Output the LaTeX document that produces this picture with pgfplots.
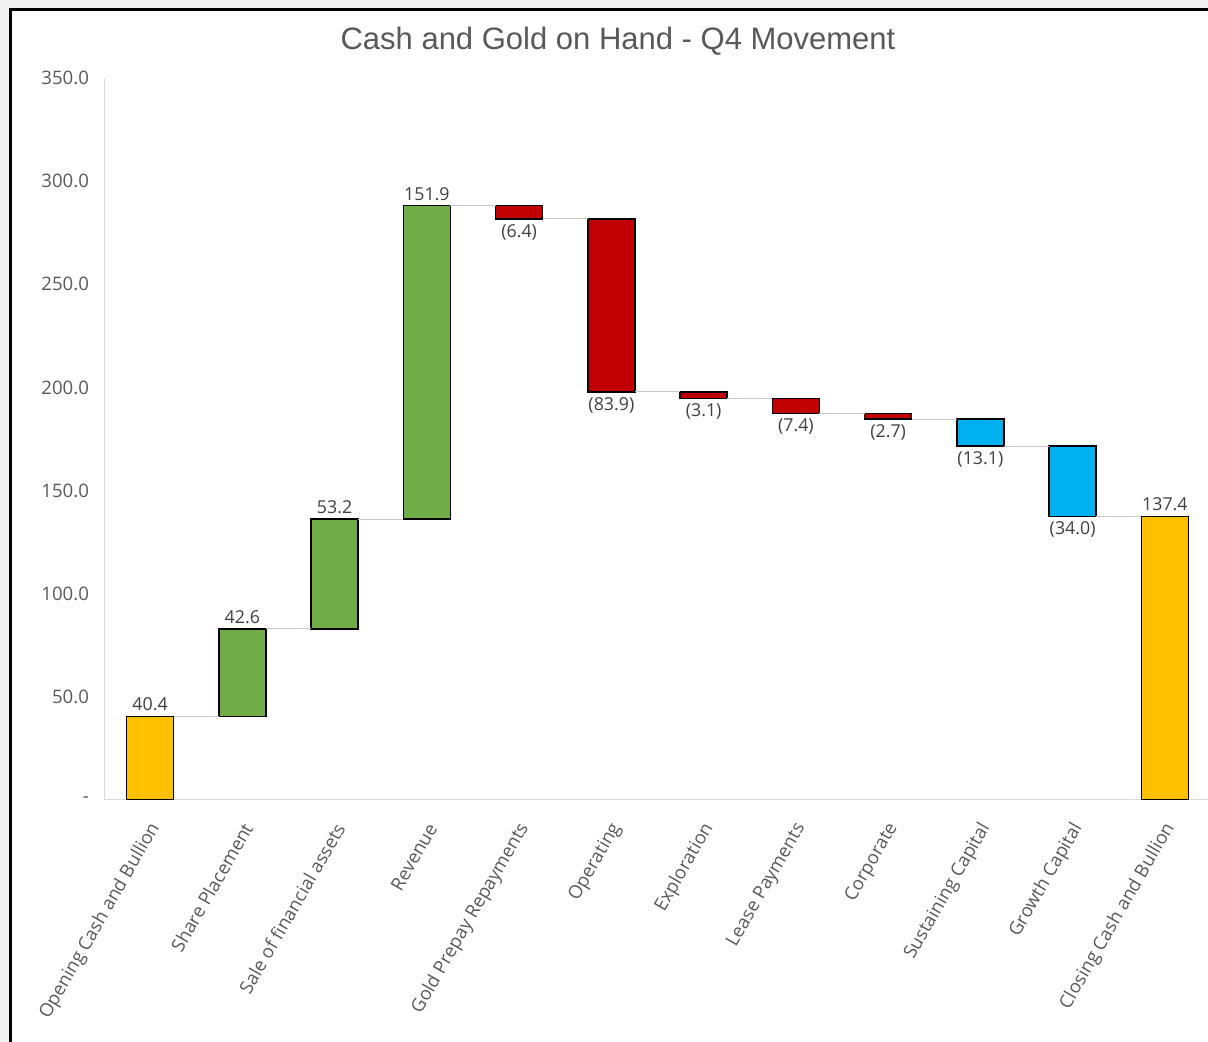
\documentclass[border=0pt]{standalone}
\usepackage{pgfplots}
\pgfplotsset{compat=1.18}
\usepackage{fontspec}
\setmainfont{Open Sans}
\newfontfamily\titlefont{Liberation Sans}
\definecolor{cgold}{HTML}{FFC000}
\definecolor{cgreen}{HTML}{70AD47}
\definecolor{cred}{HTML}{C00000}
\definecolor{cblue}{HTML}{00B0F0}
\definecolor{ctick}{HTML}{595959}
\definecolor{clab}{HTML}{404040}
\definecolor{cax}{HTML}{D9D9D9}
\definecolor{cbg}{HTML}{F0F0F0}

% waterfall data: base (invisible), then heights by colour
\pgfplotstableread{
x base gold green red blue
0 0     40.4  0     0    0
1 40.4  0     42.6  0    0
2 83.0  0     53.2  0    0
3 136.2 0     151.9 0    0
4 281.7 0     0     6.4  0
5 197.8 0     0     83.9 0
6 194.7 0     0     3.1  0
7 187.3 0     0     7.4  0
8 184.6 0     0     2.7  0
9 171.5 0     0     0    13.1
10 137.5 0    0     0    34.0
11 0    137.4 0     0    0
}\wfdata

\pgfplotstableread{
x y
0.255 40.4
0.745 40.4
0.745 nan
1.255 83.0
1.745 83.0
1.745 nan
2.255 136.2
2.745 136.2
2.745 nan
3.255 288.1
3.745 288.1
3.745 nan
4.255 281.7
4.745 281.7
4.745 nan
5.255 197.8
5.745 197.8
5.745 nan
6.255 194.7
6.745 194.7
6.745 nan
7.255 187.3
7.745 187.3
7.745 nan
8.255 184.6
8.745 184.6
8.745 nan
9.255 171.5
9.745 171.5
9.745 nan
10.255 137.5
10.745 137.5
}\conn

\pgfplotsset{
  wf/.style={
    scale only axis, width=553.5pt, height=361pt,
    at={(52pt,121pt)}, anchor=south west,
    xmin=-0.5, xmax=11.5, ymin=0, ymax=350,
  }
}

\begin{document}
\begin{tikzpicture}
\useasboundingbox (0,0) rectangle (604pt,521pt);
\fill[cbg] (0,0) rectangle (604pt,521pt);
\fill[white] (5.25pt,0) rectangle (604pt,516.25pt);
\draw[line width=1.5pt] (5.25pt,0) -- (5.25pt,516.25pt) -- (604pt,516.25pt);
\begin{scope}
\clip (6pt,0) rectangle (604pt,515.5pt);
\begin{axis}[wf,
  ybar stacked, bar width=0.51,
  axis x line*=bottom, axis y line*=left,
  axis line style={cax, line width=0.5pt, -},
  major tick length=0pt,
  ytick={0,50,...,350},
  yticklabels={-,50.0,100.0,150.0,200.0,250.0,300.0,350.0},
  yticklabel style={font=\fontsize{9.3}{11}\selectfont, text=ctick, xshift=-4pt},
  xtick={0,...,11},
  xticklabels={Opening Cash and Bullion, Share Placement, Sale of financial assets, Revenue, Gold Prepay Repayments, Operating, Exploration, Lease Payments, Corporate, Sustaining Capital, Growth Capital, Closing Cash and Bullion},
  xticklabel style={font=\fontsize{9.2}{11}\selectfont, text=ctick, xshift=4.5pt, yshift=-9.5pt, rotate=60, anchor=east},
]
\addplot[draw=none, fill=none] table[x=x, y=base] {\wfdata};
\addplot[draw=black, line width=0.75pt, fill=cgold] table[x=x, y=gold] {\wfdata};
\addplot[draw=black, line width=0.75pt, fill=cgreen] table[x=x, y=green] {\wfdata};
\addplot[draw=black, line width=0.75pt, fill=cred] table[x=x, y=red] {\wfdata};
\addplot[draw=black, line width=0.75pt, fill=cblue] table[x=x, y=blue] {\wfdata};
\end{axis}
\begin{axis}[wf, hide axis, clip=false]
\addplot[cax!80!gray, line width=0.5pt, unbounded coords=jump] table[x=x, y=y] {\conn};
\addplot[only marks, mark=none, point meta=explicit symbolic,
  nodes near coords, nodes near coords align={anchor=south},
  every node near coord/.append style={font=\fontsize{8.9}{10}\selectfont, text=clab, inner sep=2.5pt}]
  coordinates {(0,40.4) [40.4] (1,83.0) [42.6] (2,136.2) [53.2] (3,288.1) [151.9] (11,137.4) [137.4]};
\addplot[only marks, mark=none, point meta=explicit symbolic,
  nodes near coords, nodes near coords align={anchor=north},
  every node near coord/.append style={font=\fontsize{8.9}{10}\selectfont, text=clab, inner sep=2.5pt}]
  coordinates {(4,281.7) [(6.4)] (5,197.8) [(83.9)] (6,194.7) [(3.1)] (7,187.3) [(7.4)] (8,184.6) [(2.7)] (9,171.5) [(13.1)] (10,137.5) [(34.0)]};
\end{axis}
\end{scope}
\node[font=\titlefont\fontsize{15.5}{18}\selectfont, text=ctick] at (309pt,500.5pt) {Cash and Gold on Hand - Q4 Movement};
\end{tikzpicture}
\end{document}
